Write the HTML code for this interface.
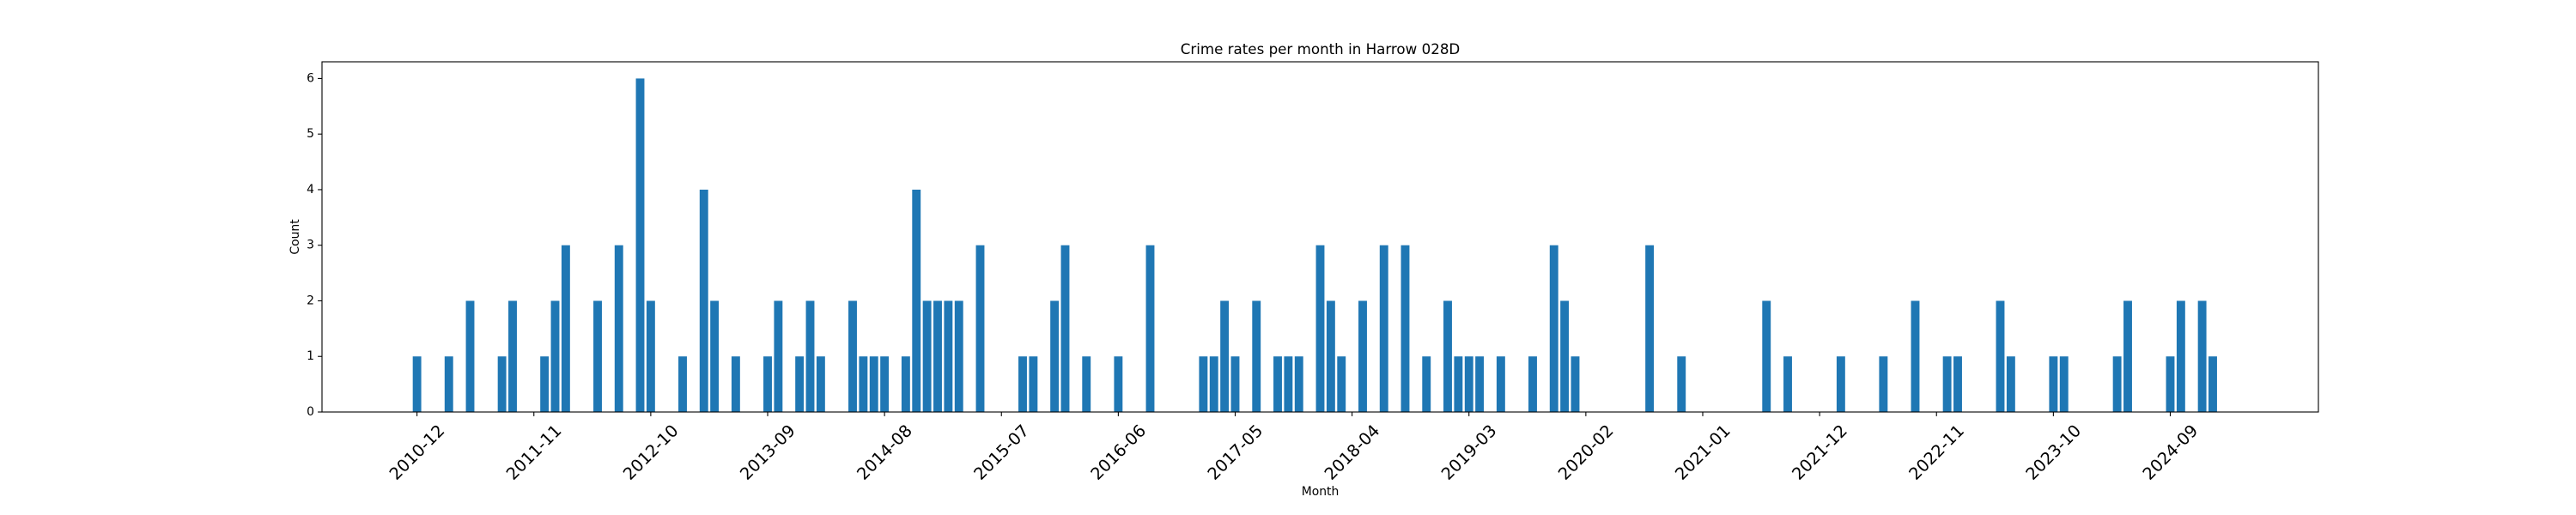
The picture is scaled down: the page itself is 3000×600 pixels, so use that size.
<!DOCTYPE html>
<html>
<head>
<meta charset="utf-8">
<style>
  html,body{margin:0;padding:0;background:#fff;}
  svg{display:block;}
  text{font-family:"DejaVu Sans","Liberation Sans",sans-serif;fill:#000;}
</style>
</head>
<body>
<svg id="chart" width="3000" height="600" viewBox="0 0 3000 600" xmlns="http://www.w3.org/2000/svg">
  <rect x="0" y="0" width="3000" height="600" fill="#fff"/>
  <text x="1537.5" y="63" font-size="16.7" text-anchor="middle">Crime rates per month in Harrow 028D</text>
  <g id="bars"></g>
  <g id="xticks"></g>
  <g id="yticks"></g>
  <rect x="375" y="72" width="2325" height="408" fill="none" stroke="#000" stroke-width="1.1"/>
  <text x="1537.5" y="577" font-size="13.9" text-anchor="middle">Month</text>
  <text x="0" y="0" font-size="13.9" text-anchor="middle" transform="translate(348,276) rotate(-90)">Count</text>
</svg>
<script>
const startYear = 2010;
const startMonth = 12;
const counts = [
  1,0,0,1,0,2,0,0,1,2,
  0,0,1,2,3,0,0,2,0,3,
  0,6,2,0,0,1,0,4,2,0,
  1,0,0,1,2,0,1,2,1,0,
  0,2,1,1,1,0,1,4,2,2,
  2,2,0,3,0,0,0,1,1,0,
  2,3,0,1,0,0,1,0,0,3,
  0,0,0,0,1,1,2,1,0,2,
  0,1,1,1,0,3,2,1,0,2,
  0,3,0,3,0,1,0,2,1,1,
  1,0,1,0,0,1,0,3,2,1,
  0,0,0,0,0,0,3,0,0,1,
  0,0,0,0,0,0,0,2,0,1,
  0,0,0,0,1,0,0,0,1,0,
  0,2,0,0,1,1,0,0,0,2,
  1,0,0,0,1,1,0,0,0,0,
  1,2,0,0,0,1,2,0,2,1,
  0
];
const xTickLabels = ["2010-12","2011-11","2012-10","2013-09","2014-08","2015-07","2016-06","2017-05","2018-04","2019-03","2020-02","2021-01","2021-12","2022-11","2023-10","2024-09"];
const yTickValues = [0,1,2,3,4,5,6];

const months = counts.map(function(_, i){
  const t = (startMonth - 1) + i;
  const y = startYear + Math.floor(t / 12);
  const m = (t % 12) + 1;
  return y + "-" + (m < 10 ? "0" + m : "" + m);
});

const NS = "http://www.w3.org/2000/svg";
const AX_L = 375, AX_R = 2700, AX_T = 72, AX_B = 480;
const n = counts.length;
const span = (n - 1) + 0.8;
const xLo = -0.4 - 0.05 * span;
const xHi = (n - 1) + 0.4 + 0.05 * span;
const yMax = Math.max.apply(null, counts) * 1.05;
function xScale(i){ return AX_L + (i - xLo) / (xHi - xLo) * (AX_R - AX_L); }
function yScale(v){ return AX_B - v / yMax * (AX_B - AX_T); }
const unit = (AX_R - AX_L) / (xHi - xLo);

const barsG = document.getElementById("bars");
counts.forEach(function(v, i){
  if (v <= 0) return;
  const r = document.createElementNS(NS, "rect");
  r.setAttribute("x", xScale(i - 0.4));
  r.setAttribute("y", yScale(v));
  r.setAttribute("width", 0.8 * unit);
  r.setAttribute("height", yScale(0) - yScale(v));
  r.setAttribute("fill", "#1f77b4");
  
  
  barsG.appendChild(r);
});

const xt = document.getElementById("xticks");
xTickLabels.forEach(function(lbl){
  const i = months.indexOf(lbl);
  if (i < 0) return;
  const x = xScale(i);
  const tk = document.createElementNS(NS, "line");
  tk.setAttribute("x1", x); tk.setAttribute("x2", x);
  tk.setAttribute("y1", AX_B); tk.setAttribute("y2", AX_B + 4.9);
  tk.setAttribute("stroke", "#000"); tk.setAttribute("stroke-width", "1.1");
  
  
  xt.appendChild(tk);
  const t = document.createElementNS(NS, "text");
  t.setAttribute("x", 0); t.setAttribute("y", 0);
  t.setAttribute("font-size", "19.4");
  t.setAttribute("text-anchor", "middle");
  t.setAttribute("dominant-baseline", "central");
  t.setAttribute("transform", "translate(" + x + "," + (AX_B + 47) + ") rotate(-45)");
  t.textContent = lbl;
  
  
  xt.appendChild(t);
});

const yt = document.getElementById("yticks");
yTickValues.forEach(function(v){
  const y = yScale(v);
  const tk = document.createElementNS(NS, "line");
  tk.setAttribute("x1", AX_L - 4.9); tk.setAttribute("x2", AX_L);
  tk.setAttribute("y1", y); tk.setAttribute("y2", y);
  tk.setAttribute("stroke", "#000"); tk.setAttribute("stroke-width", "1.1");
  
  
  yt.appendChild(tk);
  const t = document.createElementNS(NS, "text");
  t.setAttribute("x", AX_L - 9);
  t.setAttribute("y", y);
  t.setAttribute("font-size", "13.9");
  t.setAttribute("text-anchor", "end");
  t.setAttribute("dominant-baseline", "central");
  t.textContent = String(v);
  
  
  yt.appendChild(t);
});
</script>
</body>
</html>
